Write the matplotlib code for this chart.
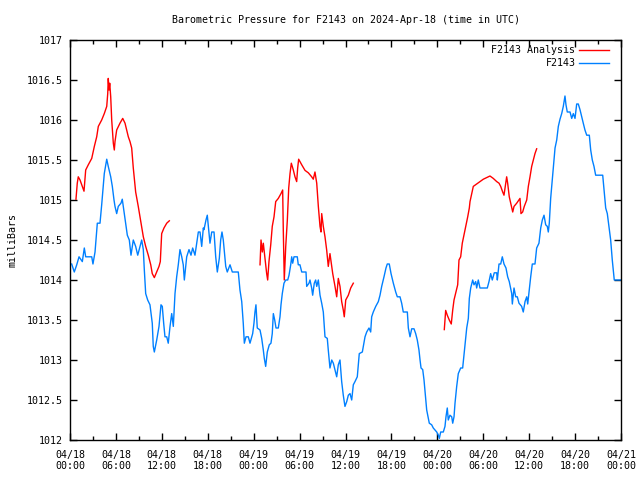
import numpy as np
import matplotlib
matplotlib.use('Agg')
import matplotlib.pyplot as plt
from matplotlib.ticker import MultipleLocator

# hours since 2024-04-18 00:00 UTC
obs_hours = [0.22, 0.56, 0.88, 1.18, 1.61, 1.87, 2.05, 2.84, 3.0, 3.27, 3.57, 3.92, 4.14, 4.48, 4.8,
             5.0, 5.32, 5.53, 5.75, 5.88, 6.1, 6.31, 6.66, 6.83, 7.02, 7.28, 7.49, 7.75, 7.97, 8.27,
             8.58, 8.85, 9.15, 9.37, 9.58, 9.71, 9.89, 10.15, 10.45, 10.75, 10.88, 11.02, 11.33, 11.63,
             11.89, 12.06, 12.24, 12.41, 12.64, 12.84, 13.07, 13.29, 13.5, 13.72, 13.94, 14.15, 14.37,
             14.6, 14.8, 14.94, 15.25, 15.55, 15.81, 16.03, 16.33, 16.56, 16.77, 16.99, 17.21, 17.42,
             17.51, 17.77, 17.94, 18.12, 18.29, 18.52, 18.82, 19.04, 19.25, 19.51, 19.69, 19.86, 20.03,
             20.35, 20.55, 20.91, 21.21, 21.99, 22.21, 22.44, 22.64, 22.78, 23.0, 23.3, 23.52, 23.87,
             24.04, 24.17, 24.3, 24.47, 24.83, 25.05, 25.26, 25.39, 25.57, 25.78, 26.04, 26.26, 26.43,
             26.57, 26.75, 26.92, 27.22, 27.44, 27.57, 27.74, 27.96, 28.19, 28.45, 28.62, 28.84, 28.97,
             29.1, 29.27, 29.7, 29.83, 30.05, 30.28, 30.84, 30.93, 31.23, 31.36, 31.58, 31.71, 31.92,
             32.1, 32.24, 32.45, 32.67, 32.89, 33.1, 33.32, 33.62, 33.75, 33.97, 34.2, 34.41, 34.63,
             34.85, 35.06, 35.28, 35.5, 35.71, 35.93, 36.16, 36.37, 36.59, 36.81, 37.02, 37.24, 37.54,
             37.8, 38.2, 38.55, 38.77, 39.07, 39.29, 39.42, 39.63, 39.95, 40.29, 40.51, 40.73, 41.03,
             41.29, 41.46, 41.72, 41.95, 42.25, 42.56, 42.77, 43.12, 43.34, 43.55, 44.08, 44.21, 44.43,
             44.65, 44.95, 45.17, 45.38, 45.6, 45.74, 45.87, 46.09, 46.26, 46.43, 46.61, 46.74, 46.95,
             47.26, 47.47, 47.69, 47.92, 48.13, 48.26, 48.44, 48.78, 49.0, 49.13, 49.3, 49.43, 49.65,
             49.88, 50.01, 50.18, 50.31, 50.53, 50.74, 51.05, 51.31, 51.48, 51.61, 51.84, 52.05, 52.18,
             52.36, 52.62, 52.79, 53.01, 53.14, 53.35, 53.57, 54.53, 54.75, 54.97, 55.18, 55.44, 55.76,
             55.84, 56.06, 56.28, 56.49, 56.71, 56.97, 57.19, 57.4, 57.72, 57.8, 58.02, 58.24, 58.45,
             58.67, 59.02, 59.23, 59.46, 59.68, 59.81, 59.98, 60.2, 60.41, 60.76, 60.98, 61.28, 61.51,
             61.72, 61.94, 62.16, 62.37, 62.5, 62.63, 62.81, 62.98, 63.15, 63.38, 63.6, 63.81, 64.03,
             64.25, 64.46, 64.68, 64.81, 64.98, 65.34, 65.56, 65.77, 65.99, 66.21, 66.42, 66.64, 66.86,
             67.07, 67.29, 67.52, 67.86, 68.04, 68.25, 68.47, 68.69, 69.61, 69.78, 70.0, 70.21, 70.43,
             70.65, 70.86, 70.99, 71.12, 72.0]
obs_mb = [1014.2, 1014.1, 1014.19, 1014.29, 1014.23, 1014.4, 1014.29, 1014.29, 1014.2, 1014.35, 1014.71,
          1014.71, 1014.94, 1015.33, 1015.51, 1015.42, 1015.29, 1015.17, 1015.0, 1014.92, 1014.83, 1014.92,
          1014.96, 1015.01, 1014.88, 1014.71, 1014.56, 1014.5, 1014.31, 1014.5, 1014.42, 1014.31, 1014.42,
          1014.5, 1014.38, 1014.13, 1013.83, 1013.75, 1013.69, 1013.46, 1013.17, 1013.1, 1013.25, 1013.42,
          1013.69, 1013.67, 1013.46, 1013.29, 1013.29, 1013.21, 1013.42, 1013.58, 1013.42, 1013.83, 1014.04,
          1014.19, 1014.38, 1014.29, 1014.19, 1014.0, 1014.29, 1014.38, 1014.31, 1014.4, 1014.31, 1014.46,
          1014.6, 1014.6, 1014.42, 1014.65, 1014.63, 1014.75, 1014.81, 1014.63, 1014.46, 1014.6, 1014.6,
          1014.29, 1014.1, 1014.27, 1014.5, 1014.6, 1014.5, 1014.17, 1014.1, 1014.19, 1014.1, 1014.1,
          1013.875, 1013.73, 1013.46, 1013.21, 1013.29, 1013.29, 1013.21, 1013.33, 1013.46, 1013.6, 1013.69,
          1013.4, 1013.375, 1013.27, 1013.125, 1013.02, 1012.92, 1013.1, 1013.19, 1013.21, 1013.33, 1013.58,
          1013.5, 1013.4, 1013.4, 1013.54, 1013.69, 1013.83, 1013.96, 1014.0, 1014.0, 1014.06, 1014.19,
          1014.29, 1014.21, 1014.29, 1014.29, 1014.19, 1014.19, 1014.1, 1014.1, 1013.92, 1013.96, 1014.0,
          1013.9, 1013.81, 1013.96, 1014.0, 1013.92, 1014.0, 1013.81, 1013.71, 1013.6, 1013.29, 1013.27,
          1013.125, 1012.9, 1013.0, 1012.96, 1012.875, 1012.79, 1012.94, 1013.0, 1012.73, 1012.56, 1012.42,
          1012.48, 1012.56, 1012.58, 1012.5, 1012.69, 1012.73, 1012.79, 1013.08, 1013.1, 1013.29, 1013.35,
          1013.4, 1013.35, 1013.54, 1013.6, 1013.67, 1013.73, 1013.81, 1013.92, 1014.04, 1014.15, 1014.2,
          1014.2, 1014.08, 1013.96, 1013.85, 1013.79, 1013.79, 1013.71, 1013.6, 1013.6, 1013.4, 1013.29,
          1013.39, 1013.39, 1013.33, 1013.25, 1013.125, 1013.0, 1012.9, 1012.88, 1012.75, 1012.56, 1012.375,
          1012.31, 1012.21, 1012.19, 1012.15, 1012.125, 1012.1, 1012.06, 1012.02, 1012.1, 1012.1, 1012.17,
          1012.29, 1012.4, 1012.25, 1012.31, 1012.29, 1012.21, 1012.29, 1012.46, 1012.67, 1012.83, 1012.9,
          1012.9, 1013.06, 1013.17, 1013.4, 1013.52, 1013.77, 1013.9, 1014.0, 1013.94, 1013.98, 1013.9,
          1014.0, 1013.9, 1013.9, 1013.98, 1014.08, 1014.0, 1014.09, 1014.09, 1014.0, 1014.2, 1014.2,
          1014.29, 1014.2, 1014.15, 1014.04, 1013.98, 1013.83, 1013.7, 1013.9, 1013.79, 1013.79, 1013.71,
          1013.67, 1013.6, 1013.73, 1013.79, 1013.7, 1013.85, 1014.04, 1014.2, 1014.2, 1014.4, 1014.46,
          1014.65, 1014.75, 1014.81, 1014.69, 1014.67, 1014.6, 1014.71, 1015.02, 1015.21, 1015.4, 1015.65,
          1015.75, 1015.92, 1016.01, 1016.08, 1016.17, 1016.3, 1016.19, 1016.1, 1016.1, 1016.02, 1016.08,
          1016.02, 1016.2, 1016.2, 1016.13, 1016.04, 1015.96, 1015.875, 1015.81, 1015.81, 1015.625, 1015.5,
          1015.42, 1015.31, 1015.31, 1015.125, 1014.9, 1014.83, 1014.67, 1014.5, 1014.25, 1014.125, 1014.0,
          1014.0]

# analysis runs, separated by gaps (nan)
ana_hours = [0.78, 0.95, 1.08, 1.31, 1.53, 1.83, 2.05, 2.39, 2.84, 3.18, 3.49, 3.7, 4.14, 4.48, 4.8, 4.93,
             5.0, 5.1, 5.19, 5.32, 5.45, 5.66, 5.79, 5.88, 6.1, 6.53, 6.89, 7.19, 7.62, 7.84, 8.06, 8.27,
             8.58, 8.92, 9.28, 9.58, 9.89, 10.23, 10.55, 10.75, 11.02, 11.33, 11.63, 11.8, 11.98, 12.28,
             12.64, 12.98, 18.0,
             24.83, 24.96, 25.13, 25.26, 25.48, 25.7, 25.83, 26.0, 26.23, 26.43, 26.66, 26.88, 27.22, 27.57,
             27.79, 27.87, 28.0, 28.19, 28.4, 28.58, 28.75, 28.92, 29.18, 29.4, 29.62, 29.75, 29.88, 30.28,
             30.71, 31.14, 31.58, 31.79, 32.01, 32.24, 32.45, 32.67, 32.8, 32.89, 33.1, 33.32, 33.54, 33.75,
             33.97, 34.33, 34.63, 34.85, 35.06, 35.28, 35.5, 35.71, 35.84, 36.03, 36.37, 36.68, 37.02, 42.0,
             48.91, 49.09, 49.3, 49.56, 49.82, 50.01, 50.18, 50.44, 50.66, 50.83, 51.05, 51.26, 51.52,
             51.75, 51.97, 52.18, 52.27, 52.49, 52.7, 53.14, 53.57, 54.01, 54.45, 54.88, 55.31, 55.76,
             56.06, 56.28, 56.54, 56.71, 56.93, 57.06, 57.19, 57.4, 57.59, 57.72, 57.85, 58.02, 58.37,
             58.8, 58.93, 59.15, 59.36, 59.68, 59.89, 60.11, 60.33, 60.54, 60.76, 60.98]
ana_mb = [1015.01, 1015.21, 1015.29, 1015.25, 1015.19, 1015.11, 1015.375, 1015.44, 1015.52, 1015.67,
          1015.79, 1015.92, 1016.0, 1016.08, 1016.17, 1016.33, 1016.52, 1016.375, 1016.46, 1016.29, 1016.0,
          1015.71, 1015.625, 1015.73, 1015.875, 1015.96, 1016.02, 1015.96, 1015.79, 1015.73, 1015.65,
          1015.4, 1015.1, 1014.92, 1014.71, 1014.54, 1014.42, 1014.31, 1014.19, 1014.08, 1014.03, 1014.1,
          1014.17, 1014.23, 1014.58, 1014.65, 1014.71, 1014.74, np.nan,
          1014.19, 1014.5, 1014.35, 1014.46, 1014.27, 1014.08, 1014.0, 1014.23, 1014.44, 1014.67, 1014.79,
          1014.98, 1015.02, 1015.08, 1015.125, 1014.63, 1014.0, 1014.42, 1014.75, 1015.15, 1015.33,
          1015.46, 1015.375, 1015.29, 1015.23, 1015.4, 1015.51, 1015.44, 1015.37, 1015.34, 1015.29,
          1015.26, 1015.35, 1015.21, 1014.92, 1014.67, 1014.6, 1014.83, 1014.67, 1014.54, 1014.375,
          1014.17, 1014.33, 1014.08, 1013.92, 1013.79, 1014.02, 1013.92, 1013.73, 1013.625, 1013.54,
          1013.75, 1013.81, 1013.9, 1013.96, np.nan,
          1013.38, 1013.62, 1013.56, 1013.5, 1013.45, 1013.625, 1013.75, 1013.85, 1013.94, 1014.25,
          1014.29, 1014.46, 1014.58, 1014.69, 1014.79, 1014.9, 1014.98, 1015.08, 1015.17, 1015.2, 1015.23,
          1015.26, 1015.28, 1015.3, 1015.27, 1015.23, 1015.21, 1015.17, 1015.1, 1015.06, 1015.21, 1015.29,
          1015.21, 1015.04, 1014.96, 1014.9, 1014.85, 1014.92, 1014.96, 1015.02, 1014.83, 1014.85,
          1014.92, 1015.0, 1015.17, 1015.29, 1015.42, 1015.5, 1015.58, 1015.64]

xtick_hours = list(range(0, 73, 6))
xtick_labels = ['04/18\n00:00', '04/18\n06:00', '04/18\n12:00', '04/18\n18:00',
                '04/19\n00:00', '04/19\n06:00', '04/19\n12:00', '04/19\n18:00',
                '04/20\n00:00', '04/20\n06:00', '04/20\n12:00', '04/20\n18:00',
                '04/21\n00:00']
ytick_vals = [1012, 1012.5, 1013, 1013.5, 1014, 1014.5, 1015, 1015.5, 1016, 1016.5, 1017]

fs = 7.2
plt.rcParams['font.family'] = ['DejaVu Sans Mono']
plt.rcParams['font.size'] = fs

fig = plt.figure(figsize=(6.4, 4.8), dpi=100)
ax = fig.add_axes([70 / 640, 40 / 480, 551 / 640, 400 / 480])

ax.plot(ana_hours, ana_mb, color='#ff0000', lw=1.0, label='F2143 Analysis')
ax.plot(obs_hours, obs_mb, color='#0080ff', lw=1.0, label='F2143')

ax.set_xlim(0, 72)
ax.set_ylim(1012, 1017)
ax.set_xticks(xtick_hours)
ax.set_xticklabels(xtick_labels)
ax.xaxis.set_minor_locator(MultipleLocator(3))
ax.set_yticks(ytick_vals)
ax.set_yticklabels(['%g' % v for v in ytick_vals])
ax.tick_params(which='both', direction='in', top=True, right=True, width=1, labelsize=fs)
ax.tick_params(which='major', length=5, pad=5)
ax.tick_params(which='minor', length=3)
ax.tick_params(axis='x', pad=7)
for s in ax.spines.values():
    s.set_linewidth(1)

ax.set_ylabel('milliBars', labelpad=7, fontsize=fs)
ax.set_title('Barometric Pressure for F2143 on 2024-Apr-18 (time in UTC)', pad=12, fontsize=fs)

ax.legend(loc='upper right', bbox_to_anchor=(0.989, 1.0), frameon=False, markerfirst=False,
          handlelength=3.0, fontsize=fs, borderaxespad=0.15, borderpad=0.4,
          labelspacing=0.3, handletextpad=0.4)

fig.savefig('out.png', dpi=100)
